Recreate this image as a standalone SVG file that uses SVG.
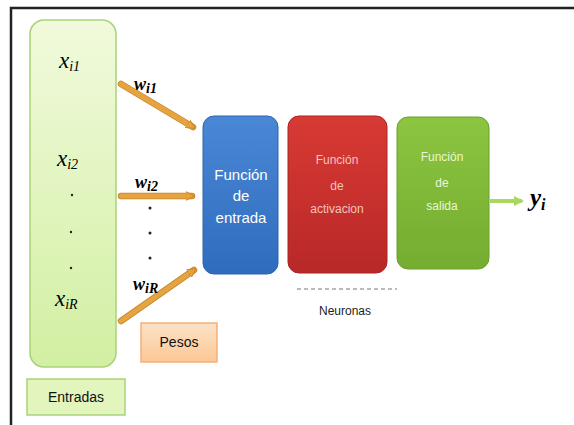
<svg xmlns="http://www.w3.org/2000/svg" width="574" height="425" viewBox="0 0 574 425">
  <defs>
    <linearGradient id="gIn" x1="0" y1="0" x2="0" y2="1">
      <stop offset="0" stop-color="#f1fadc"/>
      <stop offset="1" stop-color="#d2efa2"/>
    </linearGradient>
    <linearGradient id="gPesos" x1="0" y1="0" x2="0" y2="1">
      <stop offset="0" stop-color="#fde2c8"/>
      <stop offset="1" stop-color="#fbc894"/>
    </linearGradient>
    <linearGradient id="gBlue" x1="0" y1="0" x2="0" y2="1">
      <stop offset="0" stop-color="#4a88d6"/>
      <stop offset="1" stop-color="#2f6cbd"/>
    </linearGradient>
    <linearGradient id="gRed" x1="0" y1="0" x2="0" y2="1">
      <stop offset="0" stop-color="#d83a34"/>
      <stop offset="1" stop-color="#b82828"/>
    </linearGradient>
    <linearGradient id="gGreen" x1="0" y1="0" x2="0" y2="1">
      <stop offset="0" stop-color="#8cc540"/>
      <stop offset="1" stop-color="#74ad30"/>
    </linearGradient>
    <marker id="headOrange" viewBox="0 0 10 10" refX="7" refY="5" markerWidth="1.8" markerHeight="2" orient="auto" markerUnits="strokeWidth">
      <path d="M0,0 L10,5 L0,10 Z" fill="#e8a23c" stroke="#c6852a" stroke-width="1"/>
    </marker>
    <marker id="headGreen" viewBox="0 0 10 10" refX="8" refY="5" markerWidth="2.6" markerHeight="3" orient="auto" markerUnits="strokeWidth">
      <path d="M0,0 L10,5 L0,10 Z" fill="#a8d860"/>
    </marker>
  </defs>
  <style>
    .frame { stroke: #222; stroke-width: 2.5; fill: none; }
    .lbl { font-family: "Liberation Sans", "Open Sans", sans-serif; text-anchor: middle; }
    .math { font-family: "Liberation Serif", "DejaVu Serif", serif; font-style: italic; }
    .sub { font-size: 14px; }
    .dot { fill: #222; }
    .wire { stroke: #e6a440; stroke-width: 5; fill: none; stroke-linecap: round; }
    .wireEdge { stroke: #c4852c; stroke-width: 6.5; fill: none; stroke-linecap: round; }
  </style>

  <rect width="574" height="425" fill="#ffffff"/>
  <path class="frame" d="M11,425 L11,8 L574,8"/>

  <!-- input column -->
  <g id="entradas-col">
    <rect x="30" y="20" width="86" height="347" rx="14" fill="url(#gIn)" stroke="#a9d27a" stroke-width="1.5"/>
    <text class="math" x="59" y="68" font-size="23">x<tspan class="sub" dy="3">i1</tspan></text>
    <text class="math" x="57" y="166" font-size="23">x<tspan class="sub" dy="3">i2</tspan></text>
    <circle class="dot" cx="72" cy="195" r="1.2"/>
    <circle class="dot" cx="71" cy="232" r="1.2"/>
    <circle class="dot" cx="71" cy="268" r="1.2"/>
    <text class="math" x="55" y="306" font-size="23">x<tspan class="sub" dy="3">iR</tspan></text>
  </g>

  <g id="entradas-label">
    <rect x="27" y="379" width="98" height="36" fill="#e2f5bc" stroke="#a9d27a" stroke-width="1.5"/>
    <text class="lbl" x="76" y="402" font-size="14" fill="#111">Entradas</text>
  </g>

  <!-- weighted connections -->
  <g id="connectors">
    <line class="wireEdge" x1="121" y1="84" x2="193" y2="127"/>
    <line class="wire" x1="121" y1="84" x2="193" y2="127" marker-end="url(#headOrange)"/>
    <line class="wireEdge" x1="121" y1="196" x2="192" y2="196"/>
    <line class="wire" x1="121" y1="196" x2="192" y2="196" marker-end="url(#headOrange)"/>
    <line class="wireEdge" x1="121" y1="321" x2="194" y2="270"/>
    <line class="wire" x1="121" y1="321" x2="194" y2="270" marker-end="url(#headOrange)"/>
    <line x1="490" y1="201" x2="522" y2="201" stroke="#a8d860" stroke-width="4" marker-end="url(#headGreen)"/>
    <line x1="297" y1="289" x2="397" y2="289" stroke="#777" stroke-width="1" stroke-dasharray="4,3"/>
  </g>

  <g id="pesos-labels">
    <text class="math" x="134" y="90" font-size="18" font-weight="bold">w<tspan class="sub" dy="3" font-size="11">i1</tspan></text>
    <text class="math" x="135" y="188" font-size="18" font-weight="bold">w<tspan class="sub" dy="3" font-size="11">i2</tspan></text>
    <circle class="dot" cx="150" cy="208" r="1.5"/>
    <circle class="dot" cx="150" cy="233" r="1.5"/>
    <circle class="dot" cx="150" cy="258" r="1.5"/>
    <text class="math" x="133" y="290" font-size="18" font-weight="bold">w<tspan class="sub" dy="3" font-size="11">iR</tspan></text>
  </g>

  <g id="pesos">
    <rect x="141" y="323" width="76" height="39" fill="url(#gPesos)" stroke="#f2b07c" stroke-width="1.5"/>
    <text class="lbl" x="179" y="347" font-size="14" fill="#111">Pesos</text>
  </g>

  <g id="funcion-entrada">
    <rect x="203" y="116" width="75" height="158" rx="11" fill="url(#gBlue)" stroke="#2d64ad" stroke-width="1"/>
    <text class="lbl" x="241" y="180" font-size="15" fill="#ffffff">Función</text>
    <text class="lbl" x="241" y="201" font-size="15" fill="#ffffff">de</text>
    <text class="lbl" x="241" y="223" font-size="15" fill="#ffffff">entrada</text>
  </g>

  <g id="funcion-activacion">
    <rect x="288" y="116" width="99" height="157" rx="11" fill="url(#gRed)" stroke="#a82424" stroke-width="1"/>
    <text class="lbl" x="337" y="164" font-size="12" fill="#f4c4bc">Función</text>
    <text class="lbl" x="337" y="190" font-size="12" fill="#f4c4bc">de</text>
    <text class="lbl" x="337" y="213" font-size="12" fill="#f4c4bc">activacion</text>
  </g>

  <g id="funcion-salida">
    <rect x="397" y="117" width="92" height="152" rx="11" fill="url(#gGreen)" stroke="#6a9e2c" stroke-width="1"/>
    <text class="lbl" x="442" y="161" font-size="12" fill="#eaf6d2">Función</text>
    <text class="lbl" x="442" y="187" font-size="12" fill="#eaf6d2">de</text>
    <text class="lbl" x="442" y="210" font-size="12" fill="#eaf6d2">salida</text>
  </g>

  <g id="salida">
    <text class="math" x="530" y="206" font-size="25" font-weight="bold">y<tspan font-size="16" dy="4">i</tspan></text>
  </g>

  <g id="neuronas">
    <text class="lbl" x="345" y="315" font-size="12" fill="#222">Neuronas</text>
  </g>
</svg>
